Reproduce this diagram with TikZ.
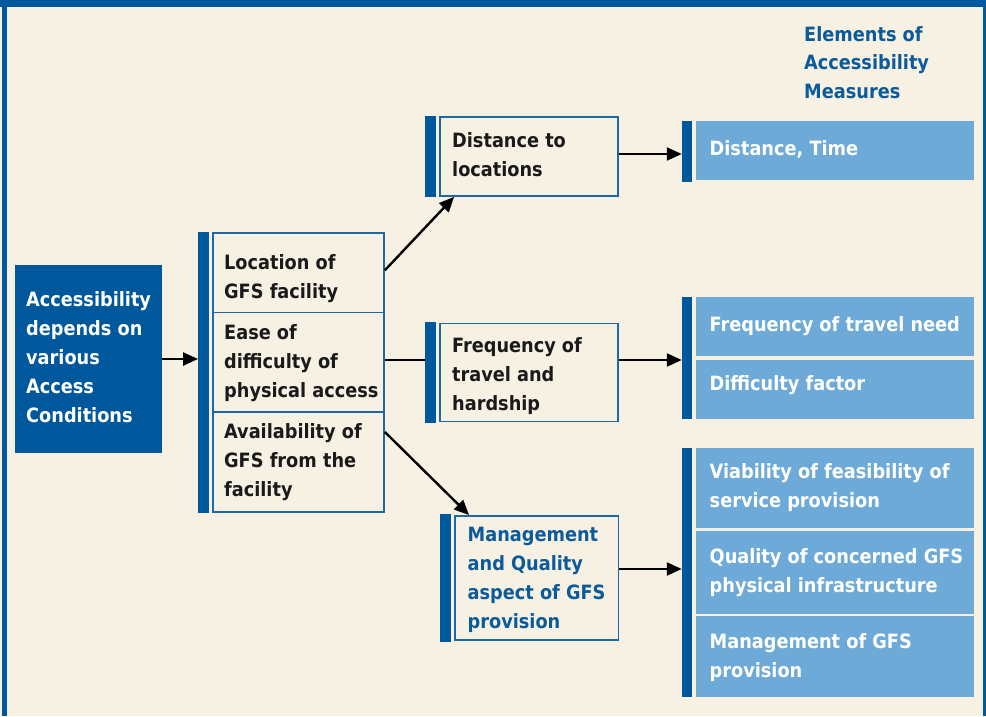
\documentclass[tikz,border=0pt]{standalone}
\usepackage{fontspec}
\newfontfamily\mainf{DejaVu Sans Condensed}
\usetikzlibrary{arrows.meta}
\definecolor{darkblue}{HTML}{00589C}
\definecolor{lightblue}{HTML}{6DAAD7}
\definecolor{beige}{HTML}{F7F1E4}
\definecolor{boxblue}{HTML}{1D69A6}
\definecolor{textdark}{HTML}{1A1A1A}
\definecolor{titleblue}{HTML}{0B5A9A}
\tikzset{
  bar/.style={fill=darkblue, draw=none, inner sep=0, minimum width=10.5pt},
  obox/.style={draw=boxblue, line width=1.8pt, fill=beige, inner sep=0},
  lbox/.style={fill=lightblue, draw=none, inner sep=0, minimum width=278pt},
  dbox/.style={fill=darkblue, draw=none, inner sep=0},
  txt/.style={inner sep=0, anchor=base west, align=left, text=textdark,
    font=\mainf\bfseries\fontsize{19.7}{29}\selectfont},
  wtxt/.style={txt, text=white},
  btxt/.style={txt, text=titleblue},
  conn/.style={line width=2.4pt, black},
  arr/.style={conn, -{Triangle[length=15pt,width=13pt]}},
}
\begin{document}
\begin{tikzpicture}[x=1pt, y=-1pt]
\useasboundingbox (0,0) rectangle (986,716);
% frame
\fill[beige] (0,0) rectangle (986,716);
\fill[darkblue] (0,0) rectangle (986,7);
\fill[darkblue] (2,0) rectangle (7,716);
\fill[darkblue] (983,0) rectangle (986,716);

% title (anchored at the baseline of its last line)
\node[btxt] (title) at (804,98) {Elements of\\[-0.5pt]Accessibility\\[-0.5pt]Measures};

% left box
\node[dbox, minimum width=147pt, minimum height=188pt] (acc) at (88.5,359) {};
\node[wtxt] (acct) at (26,422) {Accessibility\\depends on\\various\\Access\\Conditions};

% middle group
\node[bar, minimum height=281pt] (bar1) at (203.5,372.5) {};
\node[obox, minimum width=171pt, minimum height=79.5pt] (loc) at (298.5,272.75) {};
\node[obox, minimum width=171pt, minimum height=99.5pt] (ease) at (298.5,362.25) {};
\node[obox, minimum width=171pt, minimum height=100pt] (avail) at (298.5,462) {};
\node[txt] (loct) at (224,298) {Location of\\GFS facility};
\node[txt] (easet) at (224,397) {Ease of\\difficulty of\\physical access};
\node[txt] (availt) at (224,496) {Availability of\\GFS from the\\facility};

% distance
\node[bar, minimum height=80.5pt] (dbar) at (430.5,156.3) {};
\node[obox, minimum width=178pt, minimum height=79pt] (dist) at (529,156.5) {};
\node[txt] (distt) at (452,176) {Distance to\\locations};

% frequency
\node[bar, minimum height=101pt] (fbar) at (430.5,372.2) {};
\node[obox, minimum width=178pt, minimum height=98pt] (freq) at (529,372.5) {};
\node[txt] (freqt) at (452,410) {Frequency of\\travel and\\hardship};

% management
\node[bar, minimum height=127.5pt] (mbar) at (445.5,577.8) {};
\node[obox, minimum width=163.5pt, minimum height=124pt] (mgmt) at (536.75,578) {};
\node[btxt] (mgmtt) at (467.5,628) {Management\\and Quality\\aspect of GFS\\provision};

% right elements
\node[bar, minimum height=61pt] (ebar1) at (687.2,151.2) {};
\node[lbox, minimum height=59pt] (e1) at (835,150.5) {};
\node[wtxt] (e1t) at (709.5,155) {Distance, Time};

\node[bar, minimum height=122.3pt] (ebar2) at (687.2,357.9) {};
\node[lbox, minimum height=59pt] (e2) at (835,326.5) {};
\node[lbox, minimum height=59pt] (e3) at (835,389.5) {};
\node[wtxt] (e2t) at (709.5,331) {Frequency of travel need};
\node[wtxt] (e3t) at (709.5,390) {Difficulty factor};

\node[bar, minimum height=249.6pt] (ebar3) at (687.2,572.5) {};
\node[lbox, minimum height=79.4pt] (e4) at (835,488) {};
\node[lbox, minimum height=82.7pt] (e5) at (835,572.35) {};
\node[lbox, minimum height=80.7pt] (e6) at (835,656.35) {};
\node[wtxt] (e4t) at (709.5,507) {Viability of feasibility of\\service provision};
\node[wtxt] (e5t) at (709.5,592) {Quality of concerned GFS\\physical infrastructure};
\node[wtxt] (e6t) at (709.5,677) {Management of GFS\\provision};

% connectors
\draw[arr] (acc.east |- 0,359) -- (bar1.west |- 0,359);
\draw[arr] ([yshift=2.5pt]loc.east) -- ([xshift=15pt]dist.south west);
\draw[conn] ([yshift=2.5pt]ease.east) -- ([yshift=2.5pt]ease.east -| fbar.west);
\draw[arr] ([yshift=30pt]avail.east) -- ([xshift=15pt]mgmt.north west);
\draw[arr] (dist.east |- 0,154) -- (ebar1.west |- 0,154);
\draw[arr] (freq.east |- 0,360) -- (ebar2.west |- 0,360);
\draw[arr] (mgmt.east |- 0,569) -- (ebar3.west |- 0,569);
\end{tikzpicture}
\end{document}
